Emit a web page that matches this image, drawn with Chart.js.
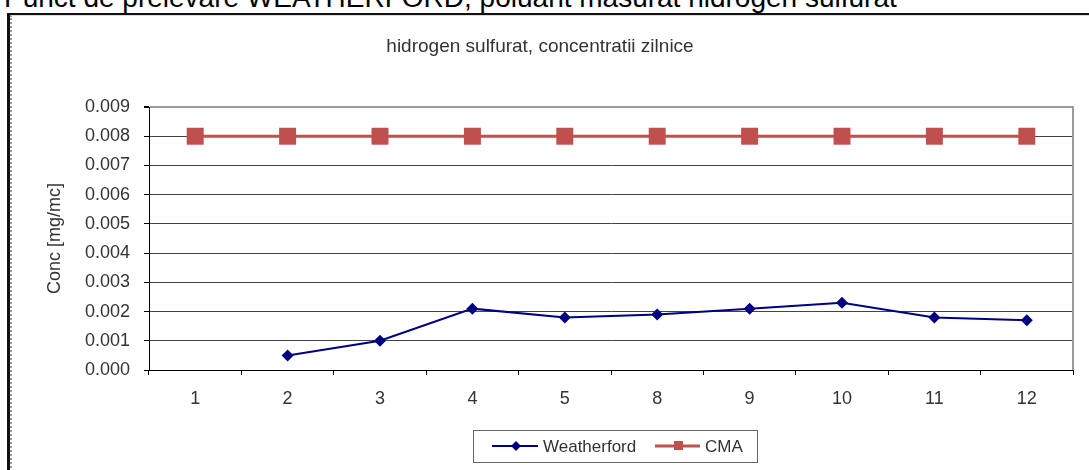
<!DOCTYPE html>
<html><head><meta charset="utf-8">
<script src="https://cdn.jsdelivr.net/npm/chart.js@4/dist/chart.umd.min.js"></script>
<style>
html,body{margin:0;padding:0;background:#fff;overflow:hidden;}
#wrap{position:relative;width:1089px;height:470px;overflow:hidden;background:#fff;}
#head{position:absolute;left:4px;top:-16px;font:28px "Liberation Sans",Arial,sans-serif;line-height:1;color:#000;white-space:nowrap;}
#frame{position:absolute;left:7px;top:13px;width:1200px;height:600px;border-left:3px solid #111;border-top:2px solid #111;}
#frame2{position:absolute;left:10px;top:15px;width:1200px;height:600px;border-left:2px dotted #999;border-top:1px solid #ddd;}
canvas{position:absolute;left:0;top:0;}
</style></head><body>
<div id="wrap">
<div id="head">Punct de prelevare WEATHERFORD, poluant masurat hidrogen sulfurat</div>
<div id="frame"></div>
<div id="frame2"></div>
<canvas id="c" width="1089" height="470"></canvas>
</div>
<script>
const categories = ['1','2','3','4','5','8','9','10','11','12'];
const weatherford = [null, 0.0005, 0.0010, 0.0021, 0.0018, 0.0019, 0.0021, 0.0023, 0.0018, 0.0017];
const cma = [0.008, 0.008, 0.008, 0.008, 0.008, 0.008, 0.008, 0.008, 0.008, 0.008];
const seriesNames = ['Weatherford', 'CMA'];
const chartTitle = 'hidrogen sulfurat, concentratii zilnice';
const yAxisTitle = 'Conc [mg/mc]';
const yMin = 0, yMax = 0.009, yStep = 0.001;

const NAVY = '#000080', RED = '#C0504D';
const FONT = '"Liberation Sans", Arial, sans-serif';

const deco = {
  id: 'deco',
  afterDraw(chart) {
    const {ctx, chartArea: a} = chart;
    ctx.save();
    // right border of plot
    ctx.strokeStyle = '#9a9a9a'; ctx.lineWidth = 2;
    ctx.beginPath(); ctx.moveTo(a.right, a.top - 1); ctx.lineTo(a.right, a.bottom); ctx.stroke();
    // title
    ctx.fillStyle = '#333';
    ctx.font = '19px ' + FONT;
    ctx.textAlign = 'center'; ctx.textBaseline = 'middle';
    ctx.fillText(chartTitle, 540, 47);
    // legend
    const lx = 473, ly = 430, lw = 284, lh = 32, cy = ly + lh / 2;
    ctx.strokeStyle = '#666'; ctx.lineWidth = 1;
    ctx.strokeRect(lx + 0.5, ly + 0.5, lw, lh);
    const ds = chart.data.datasets;
    ctx.font = '17px ' + FONT;
    // item 1
    ctx.strokeStyle = ds[0].borderColor; ctx.lineWidth = 2;
    ctx.beginPath(); ctx.moveTo(492, cy); ctx.lineTo(538, cy); ctx.stroke();
    ctx.fillStyle = ds[0].borderColor;
    ctx.beginPath(); ctx.moveTo(516, cy - 5); ctx.lineTo(521, cy); ctx.lineTo(516, cy + 5); ctx.lineTo(511, cy); ctx.closePath(); ctx.fill();
    ctx.fillStyle = '#333'; ctx.textAlign = 'left'; ctx.textBaseline = 'middle';
    ctx.fillText(ds[0].label, 543, cy + 1);
    // item 2
    ctx.strokeStyle = ds[1].borderColor; ctx.lineWidth = 3;
    ctx.beginPath(); ctx.moveTo(655, cy); ctx.lineTo(700, cy); ctx.stroke();
    ctx.fillStyle = ds[1].borderColor;
    ctx.fillRect(674, cy - 5, 9, 9);
    ctx.fillStyle = '#333';
    ctx.fillText(ds[1].label, 705, cy + 1);
    ctx.restore();
  }
};

new Chart(document.getElementById('c'), {
  type: 'line',
  data: {
    labels: categories,
    datasets: [
      { label: seriesNames[0], data: weatherford, borderColor: NAVY, backgroundColor: NAVY,
        borderWidth: 2, pointStyle: 'rectRot', pointRadius: 6, pointBorderWidth: 0, pointHoverRadius: 6, spanGaps: false },
      { label: seriesNames[1], data: cma, borderColor: RED, backgroundColor: RED,
        borderWidth: 3, pointStyle: 'rect', pointRadius: 12, pointBorderWidth: 0, pointHoverRadius: 12 }
    ]
  },
  options: {
    responsive: false, animation: false,
    layout: { padding: { top: 107, right: 16, bottom: 0, left: 0 } },
    plugins: { legend: { display: false }, title: { display: false }, tooltip: { enabled: false } },
    scales: {
      x: {
        offset: true,
        grid: { offset: true, drawOnChartArea: false, drawTicks: true, tickLength: 5, color: '#000' },
        border: { color: '#000', width: 1 },
        ticks: { color: '#333', font: { family: FONT, size: 18 }, padding: 13, maxRotation: 0 },
        afterFit(s) { s.height = 100; }
      },
      y: {
        min: yMin, max: yMax,
        grid: {
          color: ctx => (ctx.tick && ctx.tick.value >= yMax - 1e-9) ? '#9a9a9a' : '#444',
          lineWidth: ctx => (ctx.tick && ctx.tick.value >= yMax - 1e-9) ? 2 : 1,
          tickColor: '#000', tickLength: 5
        },
        border: { color: '#000', width: 1 },
        ticks: { stepSize: yStep, color: '#333', font: { family: FONT, size: 18 }, padding: 14,
          callback: v => Number(v).toFixed(3) },
        title: { display: true, text: yAxisTitle, color: '#333', font: { family: FONT, size: 18 }, padding: { top: 44, bottom: 0 } },
        afterFit(s) { s.width = 149; }
      }
    }
  },
  plugins: [deco]
});
</script>
</body></html>
